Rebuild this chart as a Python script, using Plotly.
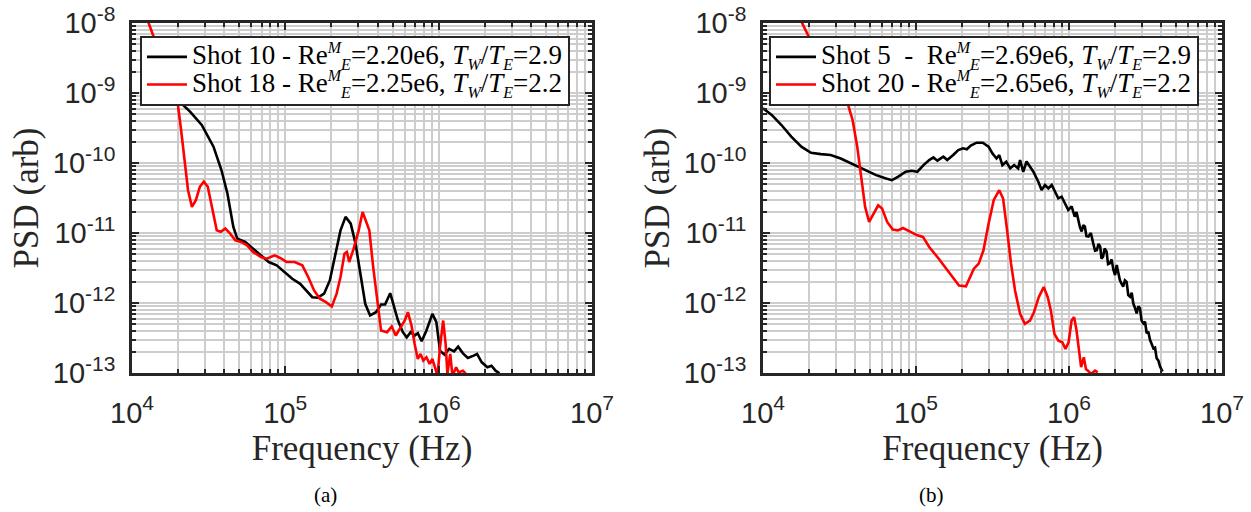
import plotly.graph_objects as go
from plotly.subplots import make_subplots

# ---------------- data ----------------
# Panel (a)
f_shot10 = [1.98e4, 2.39e4, 2.85e4, 3.40e4, 3.83e4, 4.19e4, 4.58e4, 4.86e4, 5.47e4, 6.16e4,
            6.93e4, 7.80e4, 8.78e4, 9.88e4, 1.11e5, 1.25e5, 1.37e5, 1.50e5, 1.63e5, 1.79e5,
            1.95e5, 2.13e5, 2.29e5, 2.47e5, 2.67e5, 2.87e5, 3.08e5, 3.32e5, 3.57e5, 3.90e5,
            4.21e5, 4.47e5, 4.83e5, 5.12e5, 5.43e5, 5.84e5, 6.19e5, 6.57e5, 6.97e5, 7.31e5,
            7.75e5, 8.32e5, 9.10e5, 9.66e5, 1.02e6, 1.09e6, 1.17e6, 1.26e6, 1.34e6, 1.44e6,
            1.55e6, 1.69e6, 1.78e6, 1.91e6, 2.08e6, 2.21e6, 2.35e6, 2.49e6]
psd_shot10 = [8.0e-10, 5.42e-10, 3.49e-10, 1.71e-10, 7.93e-11, 3.67e-11, 1.22e-11, 8.31e-12, 7.45e-12, 5.97e-12,
              4.80e-12, 3.85e-12, 3.45e-12, 2.77e-12, 2.22e-12, 1.88e-12, 1.51e-12, 1.21e-12, 1.19e-12, 1.36e-12,
              2.10e-12, 5.07e-12, 1.09e-11, 1.70e-11, 1.36e-11, 7.05e-12, 2.62e-12, 9.75e-13, 6.63e-13, 7.39e-13,
              9.53e-13, 9.53e-13, 1.38e-12, 8.73e-13, 5.62e-13, 3.83e-13, 3.24e-13, 3.83e-13, 3.43e-13, 3.70e-13,
              2.84e-13, 4.04e-13, 7.00e-13, 5.32e-13, 2.09e-13, 1.83e-13, 2.21e-13, 2.04e-13, 2.38e-13, 1.91e-13,
              1.64e-13, 1.77e-13, 1.87e-13, 1.42e-13, 1.21e-13, 1.27e-13, 1.08e-13, 9.9e-14]

f_shot18 = [1.21e4, 1.98e4, 2.09e4, 2.20e4, 2.32e4, 2.46e4, 2.61e4, 2.77e4, 2.94e4, 3.12e4,
            3.31e4, 3.57e4, 3.79e4, 4.06e4, 4.37e4, 4.72e4, 5.15e4, 5.63e4, 6.16e4, 6.93e4,
            7.57e4, 8.53e4, 9.43e4, 1.02e5, 1.15e5, 1.29e5, 1.41e5, 1.54e5, 1.68e5, 1.84e5,
            2.01e5, 2.16e5, 2.29e5, 2.43e5, 2.52e5, 2.61e5, 2.79e5, 3.01e5, 3.19e5, 3.39e5,
            3.53e5, 3.74e5, 3.97e5, 4.21e5, 4.61e5, 4.94e5, 5.25e5, 5.67e5, 6.01e5, 6.30e5,
            6.65e5, 6.97e5, 7.31e5, 7.62e5, 7.94e5, 8.32e5, 8.73e5, 9.10e5, 9.49e5, 9.83e5,
            1.02e6, 1.07e6, 1.11e6, 1.14e6, 1.19e6, 1.23e6, 1.30e6, 1.35e6, 1.44e6, 1.50e6]
psd_shot18 = [1.42e-8, 7.55e-10, 2.96e-10, 1.10e-10, 4.09e-11, 2.36e-11, 2.94e-11, 4.57e-11, 5.40e-11, 4.57e-11,
              2.36e-11, 1.09e-11, 1.04e-11, 1.16e-11, 9.8e-12, 7.87e-12, 7.45e-12, 6.67e-12, 5.36e-12, 4.54e-12,
              4.30e-12, 4.80e-12, 4.30e-12, 3.85e-12, 3.85e-12, 3.45e-12, 2.35e-12, 1.51e-12, 1.15e-12, 1.03e-12,
              8.91e-13, 1.36e-12, 2.35e-12, 5.07e-12, 5.36e-12, 3.85e-12, 5.97e-12, 1.09e-11, 2.00e-11, 1.44e-11,
              1.09e-11, 3.27e-12, 1.09e-12, 4.04e-13, 3.83e-13, 4.61e-13, 3.43e-13, 4.51e-13, 5.62e-13, 7.39e-13,
              4.77e-13, 2.60e-13, 1.59e-13, 1.87e-13, 1.50e-13, 1.68e-13, 1.35e-13, 1.59e-13, 1.21e-13, 9.1e-14,
              2.33e-13, 5.62e-13, 2.60e-13, 9.7e-14, 1.87e-13, 9.1e-14, 1.21e-13, 1.02e-13, 1.08e-13, 9.9e-14]

# Panel (b)
f_shot5 = [1.00e4, 1.14e4, 1.32e4, 1.53e4, 1.78e4, 2.06e4, 2.39e4, 2.77e4, 3.22e4, 3.85e4,
           4.60e4, 5.49e4, 6.37e4, 6.96e4, 7.61e4, 8.57e4, 9.37e4, 1.02e5, 1.12e5, 1.22e5,
           1.30e5, 1.38e5, 1.51e5, 1.60e5, 1.75e5, 1.89e5, 2.03e5, 2.15e5, 2.28e5, 2.49e5,
           2.73e5, 2.98e5, 3.16e5, 3.36e5, 3.50e5, 3.67e5, 3.89e5, 4.13e5, 4.38e5, 4.65e5,
           4.79e5, 5.02e5, 5.28e5, 5.56e5, 5.85e5, 6.30e5, 6.62e5, 6.97e5, 7.33e5, 7.71e5,
           8.09e5, 8.51e5, 8.95e5, 9.42e5, 9.89e5, 1.04e6, 1.09e6, 1.12e6, 1.15e6, 1.18e6,
           1.21e6, 1.24e6, 1.27e6, 1.30e6, 1.34e6, 1.39e6, 1.44e6, 1.48e6, 1.52e6, 1.56e6,
           1.60e6, 1.63e6, 1.67e6, 1.71e6, 1.76e6, 1.80e6, 1.85e6, 1.90e6, 1.95e6, 2.00e6,
           2.05e6, 2.10e6, 2.15e6, 2.20e6, 2.26e6, 2.32e6, 2.38e6, 2.44e6, 2.51e6, 2.57e6,
           2.63e6, 2.70e6, 2.77e6, 2.84e6, 2.91e6, 2.98e6, 3.06e6, 3.14e6, 3.22e6, 3.30e6,
           3.38e6, 3.47e6, 3.56e6, 3.65e6, 3.74e6, 3.84e6, 3.94e6, 4.09e6]
psd_shot5 = [6.05e-10, 4.86e-10, 3.49e-10, 2.38e-10, 1.71e-10, 1.40e-10, 1.34e-10, 1.30e-10, 1.16e-10, 9.66e-11,
             7.93e-11, 6.71e-11, 6.01e-11, 5.69e-11, 6.35e-11, 7.50e-11, 7.75e-11, 7.50e-11, 9.33e-11, 1.10e-10,
             1.20e-10, 1.08e-10, 1.23e-10, 1.10e-10, 1.30e-10, 1.53e-10, 1.62e-10, 1.57e-10, 1.77e-10, 1.95e-10,
             1.95e-10, 1.71e-10, 1.37e-10, 1.16e-10, 1.30e-10, 9.33e-11, 1.04e-10, 8.38e-11, 9.33e-11, 8.38e-11,
             1.10e-10, 7.5e-11, 1.05e-10, 8.9e-11, 7.5e-11, 5.41e-11, 4.11e-11, 4.85e-11, 4.35e-11, 4.85e-11,
             3.89e-11, 3.13e-11, 3.3e-11, 2.66e-11, 2.13e-11, 2.4e-11, 1.71e-11, 2.0e-11, 1.53e-11, 1.2e-11,
             1.05e-11, 1.3e-11, 1.23e-11, 9.0e-12, 8.9e-12, 1.0e-11, 7.1e-12, 5.6e-12, 5.7e-12, 7.0e-12,
             6.4e-12, 4.3e-12, 4.6e-12, 6.0e-12, 5.4e-12, 3.6e-12, 3.7e-12, 4.2e-12, 3.0e-12, 2.5e-12,
             3.5e-12, 2.6e-12, 2.13e-12, 1.9e-12, 1.71e-12, 2.1e-12, 2.0e-12, 1.3e-12, 1.23e-12, 1.4e-12,
             9.9e-13, 8.5e-13, 7.1e-13, 9.0e-13, 8.4e-13, 5.6e-13, 5.1e-13, 5.4e-13, 3.7e-13, 3.9e-13,
             3.0e-13, 2.6e-13, 2.25e-13, 2.3e-13, 1.62e-13, 1.5e-13, 1.23e-13, 1.05e-13]

f_shot20 = [1.68e4, 1.80e4, 2.25e4, 2.86e4, 3.52e4, 3.85e4, 4.13e4, 4.38e4, 4.65e4, 4.94e4,
            5.24e4, 5.66e4, 6.00e4, 6.48e4, 7.05e4, 7.61e4, 8.22e4, 8.83e4, 9.48e4, 1.02e5,
            1.11e5, 1.22e5, 1.38e5, 1.55e5, 1.75e5, 1.91e5, 2.12e5, 2.25e5, 2.39e5, 2.57e5,
            2.76e5, 2.98e5, 3.22e5, 3.50e5, 3.71e5, 3.94e5, 4.18e5, 4.44e5, 4.79e5, 5.14e5,
            5.56e5, 5.90e5, 6.34e5, 6.84e5, 7.26e5, 7.61e5, 8.03e5, 8.52e5, 9.04e5, 9.48e5,
            9.94e5, 1.04e6, 1.08e6, 1.12e6, 1.17e6, 1.20e6, 1.25e6, 1.29e6, 1.34e6, 1.39e6,
            1.48e6, 1.54e6]
psd_shot20 = [1.39e-8, 1.0e-8, 3.72e-9, 1.54e-9, 7.98e-10, 4.12e-10, 1.71e-10, 6.35e-11, 2.36e-11, 1.44e-11,
              1.80e-11, 2.49e-11, 2.24e-11, 1.44e-11, 1.12e-11, 1.09e-11, 1.18e-11, 1.09e-11, 9.8e-12, 9.27e-12,
              8.79e-12, 6.31e-12, 4.54e-12, 3.27e-12, 2.35e-12, 1.78e-12, 1.73e-12, 2.35e-12, 3.09e-12, 3.65e-12,
              5.66e-12, 1.36e-11, 2.94e-11, 4.09e-11, 3.11e-11, 1.09e-11, 3.65e-12, 1.51e-12, 7.00e-13, 5.04e-13,
              5.62e-13, 7.39e-13, 1.21e-12, 1.69e-12, 1.21e-12, 7.82e-13, 3.62e-13, 2.90e-13, 2.75e-13, 2.21e-13,
              2.75e-13, 5.62e-13, 6.28e-13, 4.04e-13, 1.87e-13, 1.21e-13, 1.68e-13, 1.14e-13, 1.06e-13, 9.7e-14,
              1.08e-13, 1.02e-13]

x_tick_vals = [1e4, 1e5, 1e6, 1e7]
x_tick_exp = ["4", "5", "6", "7"]
y_tick_vals = [1e-13, 1e-12, 1e-11, 1e-10, 1e-9, 1e-8]
y_tick_exp = ["-13", "-12", "-11", "-10", "-9", "-8"]

shot_a = ["10", "18"]
re_a = ["2.20e6", "2.25e6"]
tr_a = ["2.9", "2.2"]
shot_b = ["5", "20"]
re_b = ["2.69e6", "2.65e6"]
tr_b = ["2.9", "2.2"]

# ---------------- figure ----------------
W, H = 1251, 512
SERIF = "Liberation Serif"
SANS = "Liberation Sans"
AX = "#262626"
GRID = "#cdcdcd"


def sup_label(exp):
    return "10<sup><span style='font-size:21px'>" + exp + "</span></sup>"


def small(t):
    return "<span style='font-size:16px'><i>" + t + "</i></span>"


def legend_label(shot, re, tr):
    # single-digit shot numbers get a little extra space so both legend rows line up
    pad = "&nbsp;" if len(shot) == 1 else ""
    txt = ("Shot " + shot + pad + " -" + pad + " Re<sup>" + small("M") + "</sup><sub>" + small("E") +
           "</sub>=" + re + ", <i>T</i><sub>" + small("W") + "</sub>/<i>T</i><sub>" + small("E") +
           "</sub>=" + tr)
    return "<span style='font-size:27px'>" + txt + "</span>"


fig = make_subplots(rows=1, cols=2)

fig.add_trace(go.Scatter(x=f_shot10, y=psd_shot10, mode="lines", name=legend_label(shot_a[0], re_a[0], tr_a[0]),
                         line=dict(color="black", width=2.6), legend="legend"), row=1, col=1)
fig.add_trace(go.Scatter(x=f_shot18, y=psd_shot18, mode="lines", name=legend_label(shot_a[1], re_a[1], tr_a[1]),
                         line=dict(color="#ff0000", width=2.6), legend="legend"), row=1, col=1)
fig.add_trace(go.Scatter(x=f_shot5, y=psd_shot5, mode="lines", name=legend_label(shot_b[0], re_b[0], tr_b[0]),
                         line=dict(color="black", width=2.6), legend="legend2"), row=1, col=2)
fig.add_trace(go.Scatter(x=f_shot20, y=psd_shot20, mode="lines", name=legend_label(shot_b[1], re_b[1], tr_b[1]),
                         line=dict(color="#ff0000", width=2.6), legend="legend2"), row=1, col=2)

x_minor = [m * 10 ** e for e in range(4, 7) for m in range(2, 10)]
y_minor = [m * 10.0 ** e for e in range(-13, -8) for m in range(2, 10)]

ydom = [1 - 373 / H, 1 - 23 / H]
xdoms = [[132 / W, 592 / W], [763 / W, 1222 / W]]

for i in (1, 2):
    fig.update_xaxes(
        type="log", range=[4, 7], domain=xdoms[i - 1],
        tickmode="array", tickvals=x_tick_vals, ticktext=[sup_label(e) for e in x_tick_exp],
        tickfont=dict(family=SANS, size=29, color=AX), ticklabelstandoff=12,
        ticks="inside", ticklen=7, tickwidth=2, tickcolor=AX,
        showline=True, linecolor=AX, linewidth=2.5, mirror="allticks",
        showgrid=True, gridcolor=GRID, gridwidth=2,
        minor=dict(tickvals=x_minor, ticks="inside", ticklen=4, tickwidth=1.5,
                   tickcolor=AX, showgrid=True, gridcolor=GRID, gridwidth=2),
        title=dict(text="Frequency (Hz)", font=dict(family=SERIF, size=35, color=AX), standoff=4),
        zeroline=False, automargin=False,
        row=1, col=i)
    fig.update_yaxes(
        type="log", range=[-13, -8], domain=ydom,
        tickmode="array", tickvals=y_tick_vals, ticktext=[sup_label(e) for e in y_tick_exp],
        tickfont=dict(family=SANS, size=29, color=AX), ticklabelstandoff=8,
        ticks="inside", ticklen=7, tickwidth=2, tickcolor=AX,
        showline=True, linecolor=AX, linewidth=2.5, mirror="allticks",
        showgrid=True, gridcolor=GRID, gridwidth=2,
        minor=dict(tickvals=y_minor, ticks="inside", ticklen=4, tickwidth=1.5,
                   tickcolor=AX, showgrid=True, gridcolor=GRID, gridwidth=2),
        title=dict(text="PSD (arb)", font=dict(family=SERIF, size=35, color=AX), standoff=4),
        zeroline=False, automargin=False,
        row=1, col=i)

legend_style = dict(
    xanchor="left", yanchor="top", bgcolor="white", bordercolor=AX, borderwidth=2,
    font=dict(family=SERIF, size=19, color="black"), tracegroupgap=0,
    itemwidth=40, traceorder="normal")

fig.update_layout(
    width=W, height=H,
    margin=dict(l=0, r=0, t=0, b=0),
    paper_bgcolor="white", plot_bgcolor="white",
    font=dict(family=SERIF),
    showlegend=True,
    legend=dict(x=140 / W, y=1 - 36 / H, **legend_style),
    legend2=dict(x=769 / W, y=1 - 36 / H, **legend_style),
    annotations=[
        dict(text="(a)", x=312 / W, y=1 - 495 / H, xref="paper", yref="paper", yanchor="middle",
             showarrow=False, font=dict(family=SERIF, size=21, color="black")),
        dict(text="(b)", x=946 / W, y=1 - 495 / H, xref="paper", yref="paper", yanchor="middle",
             showarrow=False, font=dict(family=SERIF, size=21, color="black")),
    ],
)

fig.write_html("out.html")
